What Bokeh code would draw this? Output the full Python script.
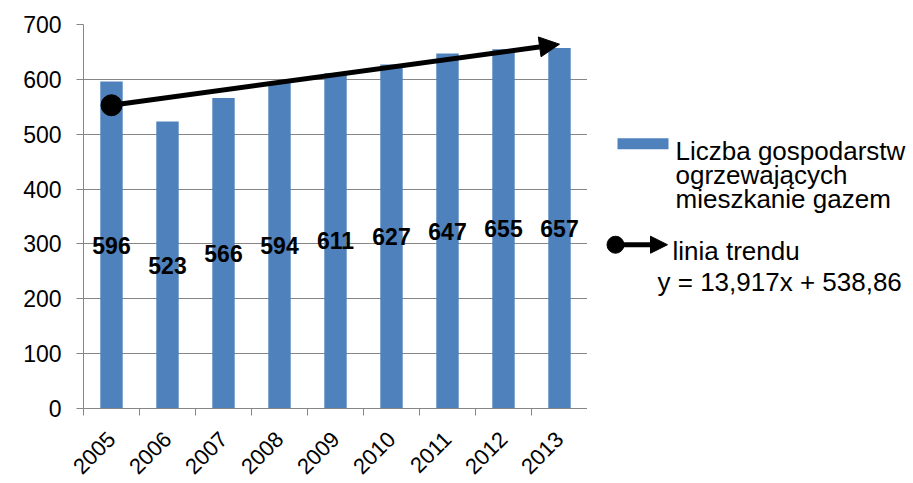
import math
from bokeh.plotting import figure
from bokeh.layouts import row
from bokeh.models import (ColumnDataSource, FactorRange, Range1d, LinearAxis, CategoricalAxis,
                          FixedTicker, Arrow, NormalHead)
from bokeh.core.properties import value
from bokeh.embed import file_html
from bokeh.resources import INLINE

years = ["2005", "2006", "2007", "2008", "2009", "2010", "2011", "2012", "2013"]
households = [596, 523, 566, 594, 611, 627, 647, 655, 657]
y_ticks = [0, 100, 200, 300, 400, 500, 600, 700]
trend_slope = 13.917
trend_intercept = 538.86
series_name = ["Liczba gospodarstw", "ogrzewających", "mieszkanie gazem"]
trend_name = "linia trendu"
trend_eq = "y = 13,917x + 538,86"

FONT = "Liberation Sans"
BLUE = "#4F81BD"
GRAY = "#868686"
H = 483

src = ColumnDataSource(dict(
    x=years, top=households,
    mid=[v / 2 for v in households],
    lbl=[str(v) for v in households],
))

p = figure(x_range=FactorRange(*years), y_range=Range1d(0, 700),
           width=587, height=H, output_backend="svg", toolbar_location=None,
           x_axis_location=None, min_border_left=83, min_border_right=0,
           min_border_top=24, min_border_bottom=73)
p.outline_line_color = None
p.xgrid.grid_line_color = None
p.ygrid.grid_line_color = GRAY
p.ygrid.ticker = FixedTicker(ticks=y_ticks)

ya = p.yaxis[0]
ya.ticker = FixedTicker(ticks=y_ticks)
ya.axis_line_color = GRAY
ya.major_tick_line_color = GRAY
ya.major_tick_out = 7
ya.major_tick_in = 0
ya.minor_tick_line_color = None
ya.major_label_standoff = 15
ya.major_label_text_font = FONT
ya.major_label_text_font_size = "23px"
ya.major_label_text_color = "black"

# tick marks at category boundaries (synthetic categorical coordinates)
bounds = list(range(len(years) + 1))
tick_axis = LinearAxis(ticker=FixedTicker(ticks=bounds),
                       axis_line_color=GRAY, major_tick_line_color=GRAY,
                       major_tick_out=7, major_tick_in=0, minor_tick_line_color=None,
                       major_label_overrides={b: "" for b in bounds},
                       major_label_text_font_size="1px", major_label_standoff=0)
p.add_layout(tick_axis, "below")
cat_axis = CategoricalAxis(axis_line_color=None, major_tick_line_color=None,
                           major_label_orientation=math.pi / 4,
                           major_label_text_font=FONT, major_label_text_font_size="22px",
                           major_label_text_color="black", major_label_standoff=14)
p.add_layout(cat_axis, "below")

p.vbar(x="x", top="top", width=0.4, source=src, fill_color=BLUE, line_color=None)
p.text(x="x", y="mid", text="lbl", source=src, text_font=value(FONT),
       text_font_size="23px", text_font_style="bold", text_align="center",
       text_baseline="middle", text_color="black")

n = len(years)
t0 = trend_intercept + trend_slope * 1
t1 = trend_intercept + trend_slope * n
p.add_layout(Arrow(x_start=0.5, y_start=t0, x_end=n - 0.5, y_end=t1,
                   line_width=5, line_color="black",
                   end=NormalHead(size=20, fill_color="black", line_color="black")))
p.scatter(x=[years[0]], y=[t0], size=21, color="black")

# legend panel
lg = figure(x_range=Range1d(0, 320), y_range=Range1d(H, 0), width=320, height=H,
            output_backend="svg", toolbar_location=None, min_border=0)
lg.axis.visible = False
lg.grid.visible = False
lg.outline_line_color = None
lg.rect(x=[55.5], y=[150], width=51, height=14, fill_color=BLUE, line_color=None)
lg.text(x=[88, 88, 88], y=[159, 189, 219], text=series_name, text_font=value(FONT),
        text_font_size="26px", text_baseline="alphabetic", text_color="black")
lg.add_layout(Arrow(x_start=28, y_start=277, x_end=80, y_end=277, line_width=5, line_color="black",
                    end=NormalHead(size=17, fill_color="black", line_color="black")))
lg.scatter(x=[28], y=[277], size=17, color="black")
lg.text(x=[85], y=[285], text=[trend_name], text_font=value(FONT),
        text_font_size="26px", text_baseline="alphabetic", text_color="black")
lg.text(x=[70], y=[324], text=[trend_eq], text_font=value(FONT),
        text_font_size="26px", text_baseline="alphabetic", text_color="black")

layout = row(p, lg)
open("out.html", "w").write(file_html(layout, INLINE))
